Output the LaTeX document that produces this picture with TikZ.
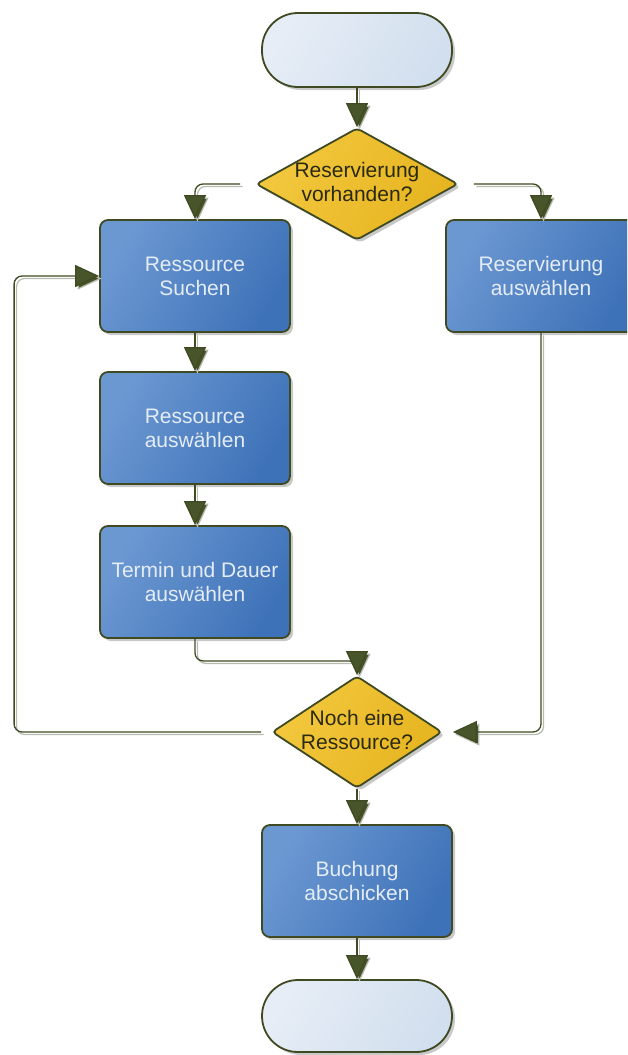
\documentclass[tikz,border=0pt]{standalone}
\usepackage{fontspec}
\setmainfont{Liberation Sans}
\usetikzlibrary{shapes.geometric,arrows.meta,shadows}
\definecolor{olive}{HTML}{3F4A22}
\definecolor{arrowol}{HTML}{48552A}
\definecolor{lshadow}{HTML}{B8BCB0}
\definecolor{blueA}{HTML}{6C98D2}
\definecolor{blueB}{HTML}{3E72B8}
\definecolor{yelA}{HTML}{F3C83E}
\definecolor{yelB}{HTML}{E6B420}
\definecolor{termA}{HTML}{E6EDF6}
\definecolor{termB}{HTML}{D2DFEE}
\definecolor{boxtext}{HTML}{E4ECF6}
\definecolor{dtext}{HTML}{2A2A12}
\tikzset{
  shade/.style={drop shadow={shadow xshift=3pt,shadow yshift=-3pt,opacity=0.35,fill=black!60}},
  procbox/.style={shade,rectangle,rounded corners=8pt,draw=olive,line width=1.8pt,
    left color=blueA,right color=blueB,shading angle=60,minimum width=190pt,minimum height=112pt,
    text=boxtext,align=center,font=\fontsize{21}{24}\selectfont},
  term/.style={shade,rectangle,rounded corners=36pt,draw=olive,line width=1.8pt,
    left color=termA,right color=termB,shading angle=60,minimum width=190pt,minimum height=74pt},
  decision/.style={shade,diamond,rounded corners=4pt,draw=olive,line width=1.8pt,
    left color=yelA,right color=yelB,shading angle=60,inner sep=0pt},
  dtxt/.style={text=dtext,align=center,font=\fontsize{21}{24}\selectfont,inner sep=0pt},
  conn/.style={draw=olive,line width=1.3pt,rounded corners=8pt,
    -{Triangle[length=24pt,width=22pt,fill=arrowol]},
    preaction={draw=lshadow,line width=1.2pt,transform canvas={shift={(2.5pt,-2.5pt)}}}}
}
\begin{document}
\begin{tikzpicture}[x=1pt,y=-1pt]
\clip (0,0) rectangle (627,1055);
\fill[white] (0,0) rectangle (627,1055);
\node[term] (start) at (357,50) {};
\node[decision,minimum width=202pt,minimum height=112pt] (d1) at (357,184) {};
\node[dtxt] (d1t) at (357,182) {Reservierung\\vorhanden?};
\node[procbox] (rs) at (195,276) {Ressource\\Suchen};
\node[procbox] (ra) at (541,276) {Reservierung\\auswählen};
\node[procbox] (sa) at (195,428) {Ressource\\auswählen};
\node[procbox] (td) at (195,582) {Termin und Dauer\\auswählen};
\node[decision,minimum width=170pt,minimum height=112pt] (d2) at (357,732) {};
\node[dtxt] (d2t) at (357,730) {Noch eine\\Ressource?};
\node[procbox] (bu) at (357,881) {Buchung\\abschicken};
\node[term,minimum height=72pt] (end) at (357,1016) {};

\draw[conn] (start.south) -- (d1.north);
\draw[conn,shorten <=15pt] (d1.west) -| (rs.north);
\draw[conn,shorten <=15pt] (d1.east) -| (ra.north);
\draw[conn] (rs.south) -- (sa.north);
\draw[conn] (sa.south) -- (td.north);
\draw[conn] (td.south) -- ++(0,22) -| (d2.north);
\draw[conn,shorten <=10pt] (d2.west) -- ++(-257,0) |- (rs.west);
\draw[conn,shorten >=10pt] (ra.south) |- (d2.east);
\draw[conn] (d2.south) -- (bu.north);
\draw[conn] (bu.south) -- (end.north);
\end{tikzpicture}
\end{document}
